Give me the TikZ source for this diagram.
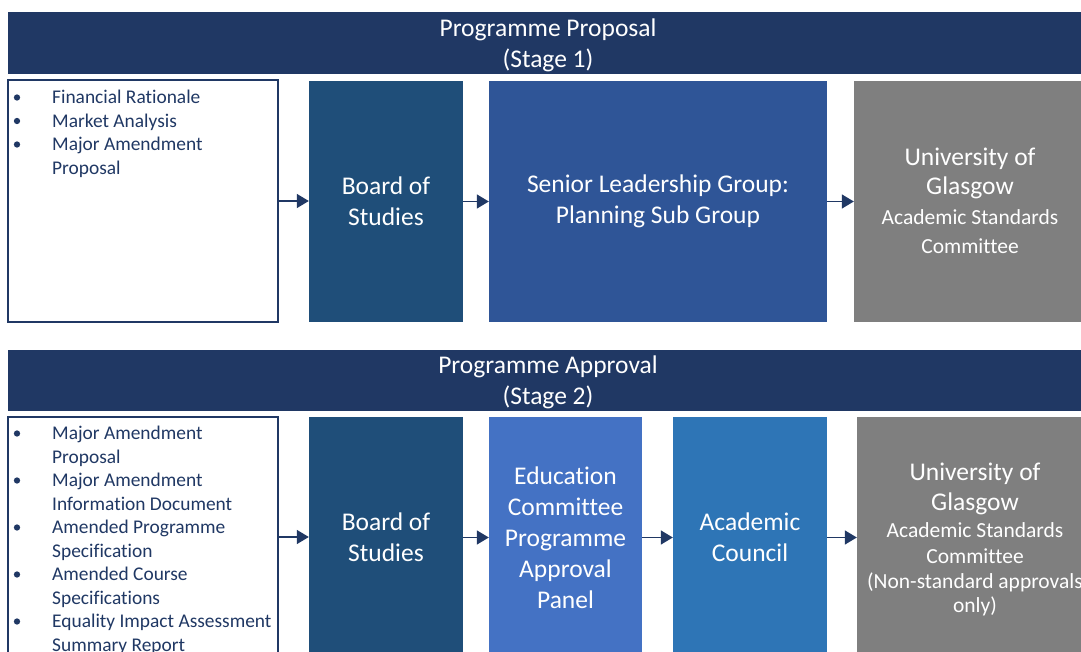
\documentclass[tikz,border=0pt]{standalone}
\usepackage{fontspec}
\setmainfont{Carlito}[Ligatures={NoCommon}]
\usetikzlibrary{arrows.meta,calc}
\definecolor{navy}{HTML}{203864}
\definecolor{hdrc}{HTML}{203864}
\definecolor{bosc}{HTML}{1F4E79}
\definecolor{slgc}{HTML}{2F5597}
\definecolor{educ}{HTML}{4472C4}
\definecolor{acc}{HTML}{2E75B6}
\definecolor{greyc}{HTML}{7F7F7F}
\newcommand\bigf{\fontsize{25.5}{31}\selectfont}
\newcommand\midf{\fontsize{21.5}{26}\selectfont}
\newcommand\smf{\fontsize{19.4}{23.5}\selectfont}
\tikzset{
  hdr/.style={fill=hdrc, minimum width=1080pt, inner sep=0pt},
  htxt/.style={text=white, inner sep=0pt, align=center, font=\bigf},
  boxx/.style={fill=#1, text=white, inner sep=0pt, align=center, font=\bigf},
  lst/.style={draw=navy, line width=1.3pt, fill=white, inner sep=0pt},
  itm/.style={anchor=base west, inner sep=0pt, text=navy, font=\smf},
  bul/.style={circle, fill=navy, inner sep=0pt, minimum size=6.3pt},
  gtxt/.style={anchor=base, inner sep=0pt, text=white},
  arr/.style={draw=navy, line width=1.6pt, -{Triangle[length=12pt,width=14pt]}}
}
\begin{document}
\begin{tikzpicture}[x=1pt,y=-1pt]
\useasboundingbox (0,0) rectangle (1081,651);
\clip (0,0) rectangle (1081,651);
\fill[white] (0,0) rectangle (1081,651);

% ---------- Stage 1 ----------
\node[hdr, minimum height=62pt] (h1) at (548,43) {};
\node[htxt] (h1t) at (548,45) {Programme Proposal\\(Stage 1)};
\node[lst, minimum width=270pt, minimum height=242pt] (l1) at (143,201) {};
\node[boxx=bosc, minimum width=154pt, minimum height=241pt] (bos1) at (386,201.5) {Board of\\Studies};
\node[boxx=slgc, minimum width=338pt, minimum height=241pt] (slg) at (658,201.5) {Senior Leadership Group:\\Planning Sub Group};
\node[boxx=greyc, minimum width=232pt, minimum height=241pt] (uog1) at (970,201.5) {};
\node[gtxt, font=\bigf] (u1a) at (970,165) {University of};
\node[gtxt, font=\bigf] (u1b) at (970,194) {Glasgow};
\node[gtxt, font=\midf] (u1c) at (970,224) {Academic Standards};
\node[gtxt, font=\midf] (u1d) at (970,253) {Committee};

\node[bul] (b11) at (17,97.5) {};
\node[bul] (b12) at (17,121) {};
\node[bul] (b13) at (17,144.5) {};
\node[itm] (t11) at (52,103.5) {Financial Rationale};
\node[itm] (t12) at (52,127) {Market Analysis};
\node[itm] (t13) at (52,150.5) {Major Amendment};
\node[itm] (t14) at (52,174) {Proposal};

\draw[arr] (l1.east) -- (l1.east -| bos1.west);
\draw[arr] (bos1.east) -- (slg.west);
\draw[arr] (slg.east) -- (uog1.west);

% ---------- Stage 2 ----------
\node[hdr, minimum height=61pt] (h2) at (548,380.5) {};
\node[htxt] (h2t) at (548,382.5) {Programme Approval\\(Stage 2)};
\node[lst, minimum width=270pt, minimum height=240pt] (l2) at (143,537) {};
\node[boxx=bosc, minimum width=154pt, minimum height=241pt] (bos2) at (386,537.5) {Board of\\Studies};
\node[boxx=educ, minimum width=153pt, minimum height=241pt] (edu) at (565.5,537.5) {Education\\Committee\\Programme\\Approval\\Panel};
\node[boxx=acc, minimum width=154pt, minimum height=241pt] (ac) at (750,537.5) {Academic\\Council};
\node[boxx=greyc, minimum width=236pt, minimum height=241pt] (uog2) at (975,537.5) {};
\node[gtxt, font=\bigf] (u2a) at (975,480) {University of};
\node[gtxt, font=\bigf] (u2b) at (975,510) {Glasgow};
\node[gtxt, font=\midf] (u2c) at (975,537) {Academic Standards};
\node[gtxt, font=\midf] (u2d) at (975,563) {Committee};
\node[gtxt, font=\midf] (u2e) at (975,588) {(Non-standard approvals};
\node[gtxt, font=\midf] (u2f) at (975,612) {only)};

\node[bul] (b21) at (17,433.5) {};
\node[bul] (b22) at (17,480.5) {};
\node[bul] (b23) at (17,527.5) {};
\node[bul] (b24) at (17,574.5) {};
\node[bul] (b25) at (17,621.5) {};
\node[itm] (t21) at (52,439.5) {Major Amendment};
\node[itm] (t22) at (52,463) {Proposal};
\node[itm] (t23) at (52,486.5) {Major Amendment};
\node[itm] (t24) at (52,510) {Information Document};
\node[itm] (t25) at (52,533.5) {Amended Programme};
\node[itm] (t26) at (52,557) {Specification};
\node[itm] (t27) at (52,580.5) {Amended Course};
\node[itm] (t28) at (52,604) {Specifications};
\node[itm] (t29) at (52,627.5) {Equality Impact Assessment};
\node[itm] (t210) at (52,651) {Summary Report};

\draw[arr] (l2.east) -- (l2.east -| bos2.west);
\draw[arr] (bos2.east) -- (edu.west);
\draw[arr] (edu.east) -- (ac.west);
\draw[arr] (ac.east) -- (uog2.west);
\end{tikzpicture}
\end{document}
